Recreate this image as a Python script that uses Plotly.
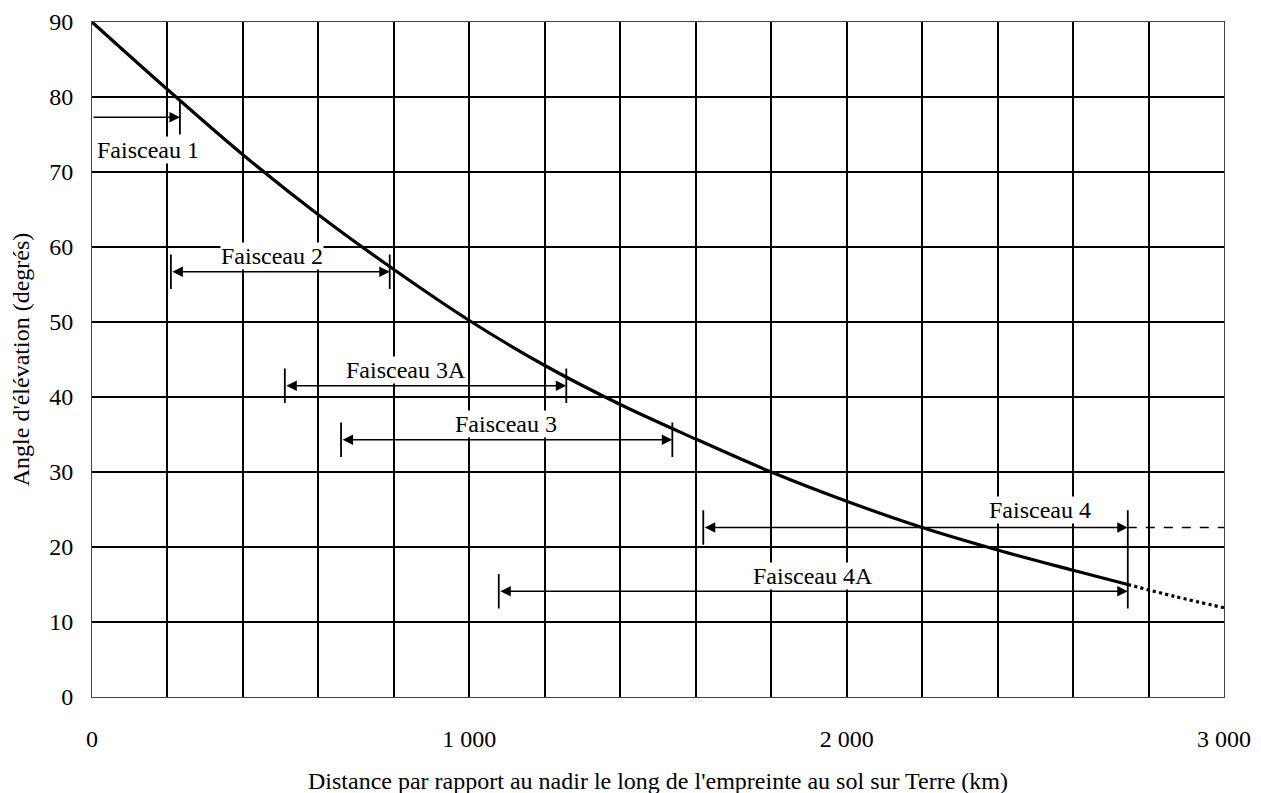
import plotly.graph_objects as go

# elevation angle vs ground distance
curve_km = [0, 200, 400, 600, 800, 1000, 1200, 1400, 1600, 1800, 2000, 2200, 2400, 2600, 2745]
curve_deg = [90, 81.0, 72.3, 64.3, 57.0, 50.2, 44.2, 39.0, 34.4, 30.0, 26.1, 22.6, 19.6, 16.9, 15.0]
# extrapolated part (dotted)
extra_km = [2745, 2870, 3000]
extra_deg = [15.0, 13.4, 11.9]

# beam coverage ranges
beam_names = ["Faisceau 1", "Faisceau 2", "Faisceau 3A", "Faisceau 3", "Faisceau 4", "Faisceau 4A"]
beam_start = [0, 209, 511, 660, 1620, 1078]
beam_end = [233, 789, 1257, 1538, 2745, 2745]
beam_elev = [77.3, 56.7, 41.5, 34.3, 22.6, 14.1]

# x ticks: grid every 200 km, labels every 1000
x_ticks = list(range(0, 3001, 200))
x_ticktext = ["0", "", "", "", "", "1 000", "", "", "", "", "2 000", "", "", "", "", "3 000"]
y_ticks = [0, 10, 20, 30, 40, 50, 60, 70, 80, 90]

FONT = "Liberation Serif, Times New Roman, serif"
FS = 24
TICK = 2.3  # half height of end markers (deg)

fig = go.Figure()

fig.add_trace(go.Scatter(x=curve_km, y=curve_deg, mode="lines",
                         line=dict(color="black", width=3.2, shape="spline", smoothing=1.0)))
fig.add_trace(go.Scatter(x=extra_km, y=extra_deg, mode="lines",
                         line=dict(color="black", width=3.2, dash="dot", shape="spline")))

# end markers (vertical bars); shared ends are joined into one bar
ends = {}
for s, e, y in zip(beam_start, beam_end, beam_elev):
    if s > 0:
        ends.setdefault(s, []).append(y)
    ends.setdefault(e, []).append(y)
bx, by = [], []
for xv, ys in ends.items():
    bx += [xv, xv, None]
    by += [min(ys) - TICK, max(ys) + TICK, None]
fig.add_trace(go.Scatter(x=bx, y=by, mode="lines", line=dict(color="black", width=1.8)))

# dashed continuation of Faisceau 4
i4 = beam_names.index("Faisceau 4")
fig.add_trace(go.Scatter(x=[beam_end[i4], 3000], y=[beam_elev[i4], beam_elev[i4]], mode="lines",
                         line=dict(color="black", width=1.6, dash="dash")))

# arrows
for s, e, y in zip(beam_start, beam_end, beam_elev):
    fig.add_annotation(x=e, y=y, ax=s, ay=y, axref="x", ayref="y", text="",
                       showarrow=True, arrowhead=2, startarrowhead=2,
                       arrowside="end+start" if s > 0 else "end",
                       arrowsize=1.4, startarrowsize=1.4, arrowwidth=1.5,
                       arrowcolor="black", standoff=0, startstandoff=0)

# labels
label_km = [148, 477, 831, 1096, 2512, 1912]
label_deg = [72.9, 58.8, 43.6, 36.4, 25.0, 16.2]
for name, xv, yv in zip(beam_names, label_km, label_deg):
    fig.add_annotation(x=xv, y=yv, text=name, showarrow=False,
                       font=dict(family=FONT, size=FS, color="black"),
                       bgcolor="white", borderpad=0)

# x axis title as a paper annotation (kept inside the page)
fig.add_annotation(x=0.5, y=0, xref="paper", yref="paper", yanchor="middle", yshift=-84,
                   text="Distance par rapport au nadir le long de l'empreinte au sol sur Terre (km)",
                   showarrow=False, font=dict(family=FONT, size=FS, color="black"))

fig.update_layout(
    width=1261, height=793,
    margin=dict(l=84, r=45, t=14, b=104),
    paper_bgcolor="white", plot_bgcolor="white",
    showlegend=False,
    font=dict(family=FONT, size=FS, color="black"),
)
fig.update_xaxes(range=[0, 3000], tickmode="array", tickvals=x_ticks, ticktext=x_ticktext,
                 showgrid=True, gridcolor="black", gridwidth=2, zeroline=False,
                 showline=True, linecolor="#444", linewidth=1, mirror=True,
                 ticks="", ticklabelstandoff=20, automargin=False)
fig.update_yaxes(range=[0, 90], tickmode="array", tickvals=y_ticks,
                 showgrid=True, gridcolor="black", gridwidth=2, zeroline=False,
                 showline=True, linecolor="#444", linewidth=1, mirror=True,
                 ticks="", ticklabelstandoff=13, automargin=False, ticklabeloverflow="allow",
                 title=dict(text="Angle d'élévation (degrés)", font=dict(size=FS), standoff=19))

fig.write_html("out.html")
